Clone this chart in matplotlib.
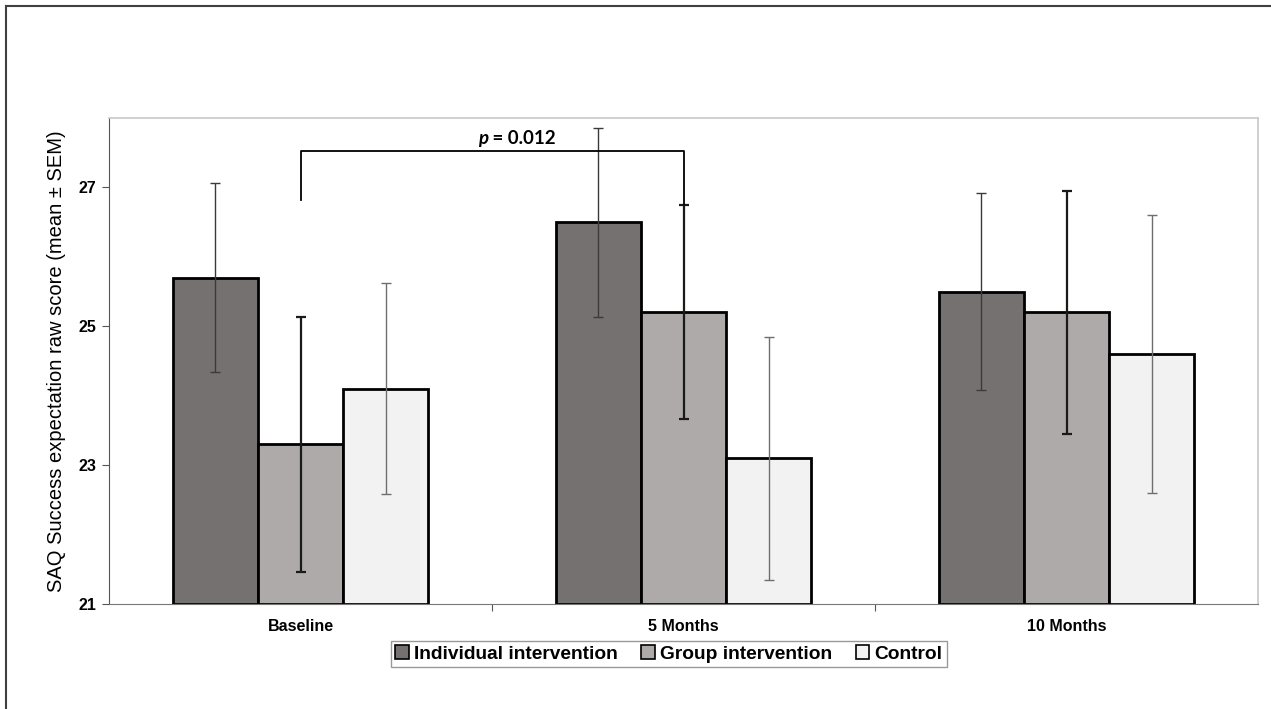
import numpy as np
import matplotlib
matplotlib.use('Agg')
import matplotlib.pyplot as plt
from matplotlib.lines import Line2D

plt.rcParams['font.family'] = ['Liberation Sans', 'DejaVu Sans']

# 数据
categories = ['Baseline', '5 Months', '10 Months']
groups = ['Individual intervention', 'Group intervention', 'Control']
means = [
    [25.7, 26.5, 25.5],   # Individual
    [23.3, 25.2, 25.2],   # Group
    [24.1, 23.1, 24.6],   # Control
]
sems = [
    [1.36, 1.36, 1.42],
    [1.84, 1.54, 1.75],
    [1.52, 1.75, 2.00],
]
p_text = ' = 0.012'

colors = ['#767171', '#aeaaaa', '#f2f2f2']
err_colors = ['#3a3a3a', '#1a1a1a', '#6e6e6e']
err_lw = [1.0, 1.6, 1.0]

fig = plt.figure(figsize=(12.71, 7.09), dpi=100)
ax = fig.add_axes([0.0858, 0.1481, 0.9040, 0.6855])

# 外框
fig.add_artist(Line2D([6 / 1271, 6 / 1271], [0, 1 - 6 / 709], transform=fig.transFigure,
                      color='#404040', lw=1.5))
fig.add_artist(Line2D([6 / 1271, 1], [1 - 6 / 709, 1 - 6 / 709], transform=fig.transFigure,
                      color='#404040', lw=1.5))

x = np.arange(len(categories))
w = 0.2225
for i in range(3):
    pos = x + (i - 1) * w
    ax.bar(pos, np.array(means[i]) - 21, w, bottom=21, color=colors[i],
           edgecolor='black', linewidth=2, label=groups[i], zorder=2)
    ax.errorbar(pos, means[i], yerr=sems[i], fmt='none', ecolor=err_colors[i],
                elinewidth=err_lw[i], capsize=3.5, capthick=err_lw[i], zorder=3)

# 显著性标记
ax.plot([0, 0, 1, 1], [26.82, 27.53, 27.53, 26.76], color='black', lw=1.3, zorder=4)
ax.text(0.49, 27.58, 'p', style='italic', weight='bold', ha='right', va='bottom',
        fontsize=13.5, family=['Lato', 'DejaVu Sans'])
ax.text(0.49, 27.58, p_text, weight='bold', ha='left', va='bottom',
        fontsize=13.5, family=['Lato', 'DejaVu Sans'])

ax.set_xlim(-0.5, 2.5)
ax.set_ylim(21, 28)
ax.set_yticks([21, 23, 25, 27])
ax.set_yticklabels(['21', '23', '25', '27'], fontweight='bold', fontsize=11.5)
ax.set_xticks([0.5, 1.5], minor=False)
ax.set_xticklabels([])
ax.set_xticks(x, minor=True)
ax.set_xticklabels(categories, minor=True, fontweight='bold', fontsize=11.5)
ax.tick_params(axis='x', which='major', length=5, direction='out', color='#555555')
ax.tick_params(axis='x', which='minor', length=0, pad=11)
ax.tick_params(axis='y', length=5, direction='out', color='#555555', pad=4)

ax.set_ylabel('SAQ Success expectation raw score (mean ± SEM)', fontsize=14.5, labelpad=9)

for s in ['top', 'right']:
    ax.spines[s].set_color('#c8c8c8')
    ax.spines[s].set_linewidth(1.2)
ax.spines['left'].set_color('#555555')
ax.spines['bottom'].set_color('#777777')

leg = fig.legend(loc='center', bbox_to_anchor=(669 / 1271, 1 - 654 / 709), ncol=3,
                 frameon=True, fancybox=False, edgecolor='#808080',
                 handlelength=0.7, handleheight=0.7, handletextpad=0.3, columnspacing=1.2,
                 borderpad=0.2, prop={'weight': 'bold', 'size': 13.8})
leg.get_frame().set_linewidth(1.0)
for h in leg.legend_handles:
    h.set_linewidth(1.2)

plt.savefig('out.png', dpi=100)
